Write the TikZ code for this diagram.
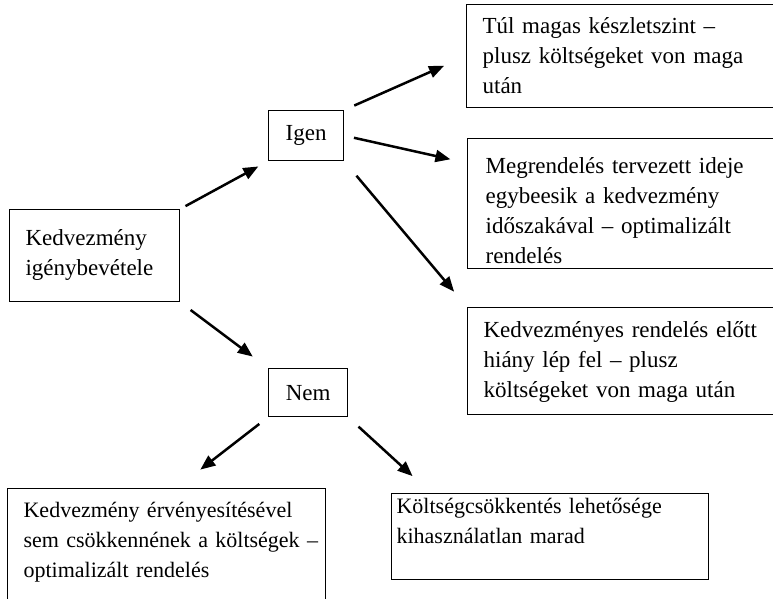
\documentclass[tikz,border=0pt]{standalone}
\usepackage{fontspec}
\setmainfont{Liberation Serif}
\usetikzlibrary{arrows.meta}

\tikzset{
  doboz/.style={draw, line width=1.2pt, anchor=north west, align=left, inner xsep=16pt, inner ysep=0pt},
  valasz/.style={draw, line width=1.2pt, anchor=north west, align=center, inner sep=0pt},
  nyil/.style={line width=2.5pt, -{Triangle[length=15pt,width=12pt]}},
  kisebb/.style={font=\fontsize{22}{30}\selectfont},
}

\begin{document}
\begin{tikzpicture}[x=1pt, y=-1pt, font=\fontsize{23}{30}\selectfont]

\useasboundingbox (0,0) rectangle (773,599);
\clip (0,0) rectangle (773,599);

% ===== Kiinduló doboz =====
\node[doboz, text width=138pt, text height=36pt, text depth=56pt] (kedv) at (9,209)
  {Kedvezmény\\igénybevétele};

% ===== Igen / Nem =====
\node[valasz, minimum width=75pt, minimum height=50pt] (igen) at (268,110) {Igen};
\node[valasz, minimum width=79pt, minimum height=48pt] (nem) at (268,368) {Nem};

% ===== Igen ágai =====
\node[doboz, text width=300pt, text height=29pt, text depth=74pt] (tul) at (466,4)
  {Túl magas készletszint –\\plusz költségeket von maga\\után};
\node[doboz, inner xsep=18pt, text width=300pt, text height=35pt, text depth=95pt] (megr) at (467,138)
  {Megrendelés tervezett ideje\\egybeesik a kedvezmény\\időszakával – optimalizált\\rendelés};
\node[doboz, text width=300pt, text height=30pt, text depth=77pt] (hiany) at (467,307)
  {Kedvezményes rendelés előtt\\hiány lép fel – plusz\\költségeket von maga után};

% ===== Nem ágai =====
\node[doboz, kisebb, text width=286pt, text height=29pt, text depth=130pt] (erveny) at (7,488)
  {Kedvezmény érvényesítésével\\\mbox{sem csökkennének a költségek –}\\optimalizált rendelés};
\node[doboz, kisebb, inner xsep=5pt, text width=307pt, text height=20pt, text depth=66pt] (koltseg) at (391,493)
  {Költségcsökkentés lehetősége\\kihasználatlan marad};

% ===== Nyilak =====
\draw[nyil, shorten <=6pt, shorten >=11pt] (kedv.north east) -- (igen.south west);
\draw[nyil, shorten <=13pt, shorten >=19pt] (kedv.south east) -- (nem.north west);

\draw[nyil, shorten <=11pt, shorten >=24pt] (igen.north east) -- (tul.west);
\draw[nyil, shorten <=10pt, shorten >=17pt] (igen.east) -- ([yshift=-25pt]megr.north west);
\draw[nyil, shorten <=19pt, shorten >=20pt] (igen.south east) -- (hiany.north west);

\draw[nyil, shorten <=11pt, shorten >=30pt] (nem.south west) -- ([xshift=10pt]erveny.north);
\draw[nyil, shorten <=14pt, shorten >=25pt] (nem.south east) -- ([xshift=40pt]koltseg.north west);

\end{tikzpicture}
\end{document}
